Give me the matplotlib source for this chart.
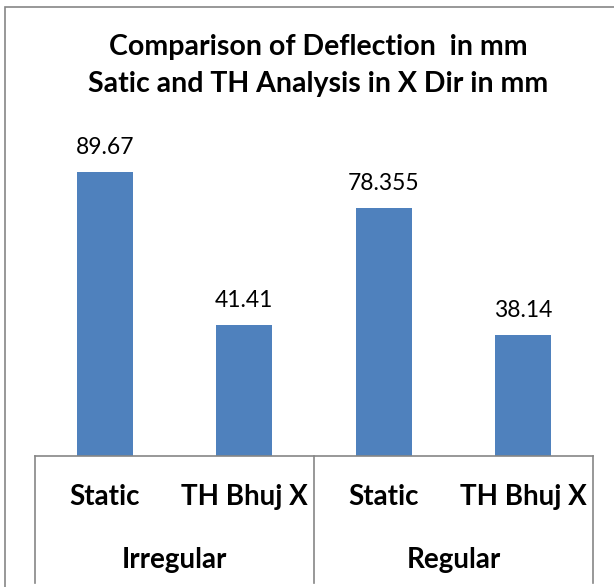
import matplotlib
matplotlib.use('Agg')
import matplotlib.pyplot as plt
from matplotlib.patches import Rectangle
from matplotlib.lines import Line2D

# dati del grafico
gruppi = ['Irregular', 'Regular']
sottocategorie = ['Static', 'TH Bhuj X', 'Static', 'TH Bhuj X']
valori = [89.67, 41.41, 78.355, 38.14]
etichette_valori = ['89.67', '41.41', '78.355', '38.14']

plt.rcParams['font.family'] = ['Lato', 'DejaVu Sans']

fig = plt.figure(figsize=(6.14, 5.87), dpi=100)
W, H = 614, 587

# bordo della figura (stile Excel)
fig.patches.append(Rectangle((5 / W, -0.05), 1.2, (H - 7) / H + 0.05,
                             transform=fig.transFigure, fill=False,
                             edgecolor='#868686', linewidth=1.2))

# area del grafico
ax = fig.add_axes([35 / W, (H - 456) / H, 558 / W, 316.7 / H])
x = list(range(len(valori)))
ax.bar(x, valori, width=0.4, color='#4F81BD')
ax.set_xlim(-0.5, 3.5)
ax.set_ylim(0, 100)

for xi, v, lab in zip(x, valori, etichette_valori):
    ax.text(xi, v + 5.7, lab, ha='center', va='baseline', fontsize=16.5)

for s in ['top', 'right', 'left']:
    ax.spines[s].set_visible(False)
ax.spines['bottom'].set_color('#868686')
ax.spines['bottom'].set_linewidth(1.2)
ax.set_yticks([])
ax.set_xticks([])

tr = ax.get_xaxis_transform()
for xi, lab in zip(x, sottocategorie):
    ax.text(xi, -0.1295, lab, transform=tr, ha='center', va='center',
            fontsize=20, fontweight='bold')
for i, g in enumerate(gruppi):
    ax.text(2 * i + 0.5, -0.328, g, transform=tr, ha='center', va='center',
            fontsize=20, fontweight='bold')

# linee verticali di separazione delle categorie
for xs in [-0.5, 1.5, 3.5]:
    ax.add_line(Line2D([xs, xs], [0, -0.401], transform=tr, color='#868686',
                       linewidth=1.2, clip_on=False))

fig.text(318 / W, (H - 47) / H, 'Comparison of Deflection  in mm',
         ha='center', va='center', fontsize=20.5, fontweight='bold')
fig.text(318 / W, (H - 84) / H, 'Satic and TH Analysis in X Dir in mm',
         ha='center', va='center', fontsize=20.5, fontweight='bold')

fig.savefig('out.png', dpi=100)
